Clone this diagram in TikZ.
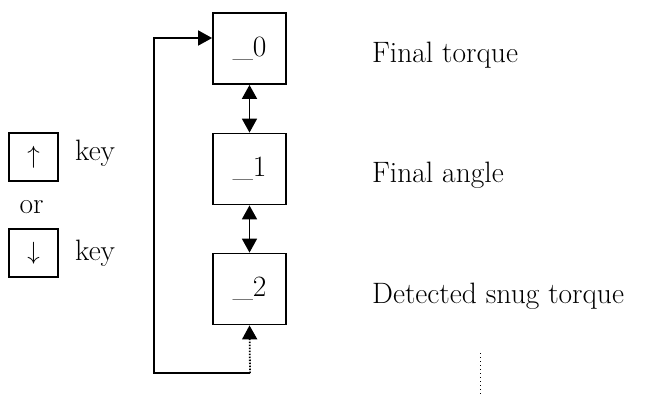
\documentclass[tikz,border=0pt]{standalone}
\usetikzlibrary{arrows.meta}
\begin{document}
\begin{tikzpicture}[x=1pt,y=-1pt,
  bigfont/.style={font=\fontsize{29.5}{35}\selectfont},
  box/.style={draw,line width=1.8pt,minimum width=73pt,minimum height=71pt,inner sep=0pt,bigfont},
  keybox/.style={draw,line width=1.5pt,minimum width=49pt,minimum height=48pt,inner sep=0pt,bigfont},
  lbl/.style={bigfont,inner sep=0pt},
  conn/.style={line width=1.8pt},
  tri/.tip={Triangle[length=14pt,width=15pt]}]
\useasboundingbox (0,0) rectangle (650,397);
\node[box] (b0) at (249.5,48.5) {\_0};
\node[box] (b1) at (249.5,169) {\_1};
\node[box] (b2) at (249.5,289) {\_2};
\draw[conn,tri-tri] (b0) -- (b1);
\draw[conn,tri-tri] (b1) -- (b2);
\coordinate (c1) at (250,373);
\coordinate (c2) at (154,373);
\coordinate (c3) at (154,38);
\draw[conn,-tri,dash pattern=on 1.5pt off 1.5pt] (c1) -- (b2.south);
\draw[conn,-tri] (c1) -- (c2) -- (c3) -- (c3 -| b0.west);
\node[keybox] (ku) at (33.5,157) {$\uparrow$};
\node[keybox] (kd) at (33.5,253) {$\downarrow$};
\node[lbl,anchor=base west] (k1) at (75,160) {key};
\node[lbl,anchor=base west] (k2) at (75,260) {key};
\node[lbl,anchor=base] (or) at (31.5,213) {or};
\node[lbl,anchor=base west] (t0) at (372,62) {Final torque};
\node[lbl,anchor=base west] (t1) at (372,182) {Final angle};
\node[lbl,anchor=base west] (t2) at (372,303) {Detected snug torque};
\coordinate (d1) at (480,353);
\coordinate (d2) at (480,394);
\draw[line width=1pt,dash pattern=on 1pt off 3pt] (d1) -- (d2);
\end{tikzpicture}
\end{document}
